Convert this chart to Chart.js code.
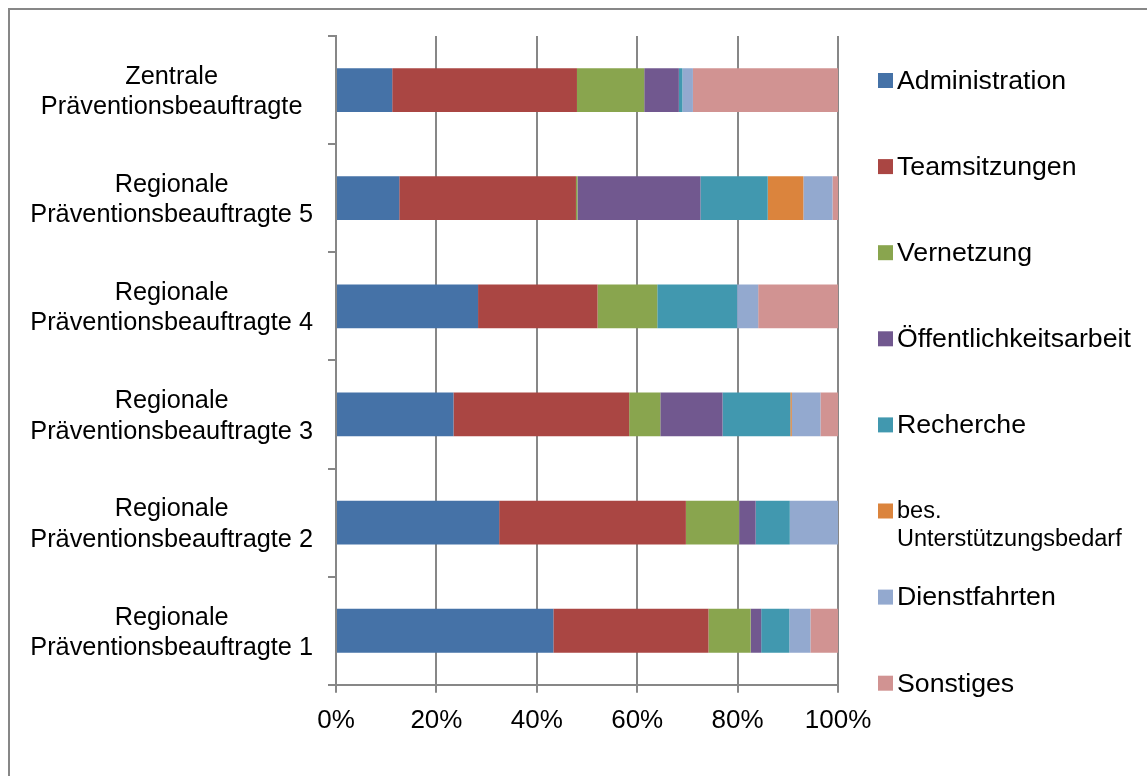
<!DOCTYPE html>
<html lang="de">

<head>
    <meta charset="utf-8">
    <title>Zeitanteile der Präventionsbeauftragten</title>
    <script src="https://cdn.jsdelivr.net/npm/chart.js"></script>
    <style>
        body { margin: 0; background: #fff; overflow: hidden; }
        #wrap { position: relative; width: 1147px; height: 776px; }
    </style>
</head>

<body>
    <div id="wrap">
        <canvas id="barChart"></canvas>
    </div>

    <script>
        // Kategorien (von oben nach unten)
        const categories = [
            ['Zentrale', 'Präventionsbeauftragte'],
            ['Regionale', 'Präventionsbeauftragte 5'],
            ['Regionale', 'Präventionsbeauftragte 4'],
            ['Regionale', 'Präventionsbeauftragte 3'],
            ['Regionale', 'Präventionsbeauftragte 2'],
            ['Regionale', 'Präventionsbeauftragte 1']
        ];

        // Anteile in Prozent je Tätigkeit
        const administration = [11.2, 12.6, 28.3, 23.4, 32.5, 43.3];
        const teamsitzungen = [36.8, 35.2, 23.8, 35.0, 37.2, 30.9];
        const vernetzung = [13.4, 0.3, 11.9, 6.2, 10.6, 8.4];
        const oeffentlichkeit = [6.9, 24.5, 0, 12.4, 3.3, 2.1];
        const recherche = [0.7, 13.4, 15.9, 13.5, 6.8, 5.6];
        const unterstuetzung = [0, 7.1, 0, 0.3, 0, 0];
        const dienstfahrten = [2.1, 5.8, 4.2, 5.7, 9.6, 4.2];
        const sonstiges = [28.9, 1.1, 15.9, 3.5, 0, 5.5];

        const xTicks = [0, 20, 40, 60, 80, 100];

        const series = [
            { label: 'Administration', data: administration, color: '#4572A7' },
            { label: 'Teamsitzungen', data: teamsitzungen, color: '#AA4643' },
            { label: 'Vernetzung', data: vernetzung, color: '#89A54E' },
            { label: 'Öffentlichkeitsarbeit', data: oeffentlichkeit, color: '#71588F' },
            { label: 'Recherche', data: recherche, color: '#4198AF' },
            { label: 'bes. Unterstützungsbedarf', data: unterstuetzung, color: '#DB843D' },
            { label: 'Dienstfahrten', data: dienstfahrten, color: '#93A9CF' },
            { label: 'Sonstiges', data: sonstiges, color: '#D19392' }
        ];

        const axisGray = '#878787';
        const fontFamily = '"Liberation Sans", Arial, sans-serif';

        // Legende rechts; zu lange Einträge werden kleiner gesetzt und umbrochen
        const sideLegend = {
            id: 'sideLegend',
            afterDraw(chart) {
                const ctx = chart.ctx;
                const x = 878, top = 81.5, step = 86.1, box = 15, maxW = 245;
                ctx.save();
                ctx.textBaseline = 'middle';
                ctx.textAlign = 'left';
                chart.data.datasets.forEach((ds, i) => {
                    const y = top + step * i;
                    ctx.fillStyle = ds.backgroundColor;
                    ctx.fillRect(x, y - box / 2 - 1, box, box);

                    let size = 26.7;
                    ctx.font = size + 'px ' + fontFamily;
                    let lines = [ds.label];
                    if (ctx.measureText(ds.label).width > maxW) {
                        size = 23.5;
                        ctx.font = size + 'px ' + fontFamily;
                        lines = [];
                        let cur = '';
                        ds.label.split(' ').forEach(w => {
                            const t = cur ? cur + ' ' + w : w;
                            if (cur && ctx.measureText(t).width > maxW - 15) {
                                lines.push(cur);
                                cur = w;
                            } else {
                                cur = t;
                            }
                        });
                        lines.push(cur);
                    }
                    ctx.fillStyle = '#000';
                    lines.forEach((l, k) => ctx.fillText(l, x + 19, y + k * 28));
                });
                ctx.restore();
            }
        };

        // Rahmen um die gesamte Grafik
        const frame = {
            id: 'frame',
            beforeDraw(chart) {
                const ctx = chart.ctx;
                ctx.save();
                ctx.strokeStyle = axisGray;
                ctx.lineWidth = 2;
                ctx.strokeRect(9, 9, 1400, 1000);
                ctx.restore();
            }
        };

        const ctx = document.getElementById('barChart').getContext('2d');

        new Chart(ctx, {
            type: 'bar',
            data: {
                labels: categories,
                datasets: series.map(s => ({
                    label: s.label,
                    data: s.data,
                    backgroundColor: s.color,
                    borderWidth: 0,
                    categoryPercentage: 1,
                    barPercentage: 0.405
                }))
            },
            options: {
                indexAxis: 'y',
                responsive: true,
                maintainAspectRatio: false,
                animation: false,
                layout: {
                    padding: { top: 36, right: 309, bottom: 28, left: 0 }
                },
                plugins: {
                    legend: { display: false },
                    tooltip: { enabled: false }
                },
                scales: {
                    x: {
                        stacked: true,
                        min: 0,
                        max: 100,
                        afterBuildTicks: scale => {
                            scale.ticks = xTicks.map(v => ({ value: v }));
                        },
                        ticks: {
                            callback: v => v + '%',
                            color: '#000',
                            padding: 12,
                            font: { family: fontFamily, size: 26 }
                        },
                        grid: {
                            color: axisGray,
                            lineWidth: 2,
                            tickLength: 8
                        },
                        border: { color: axisGray, width: 2 }
                    },
                    y: {
                        stacked: true,
                        afterFit: scale => {
                            // feste Achsbreite, Beschriftung darf nicht nach oben/unten Platz verlangen
                            scale.width = 336;
                            scale.paddingTop = 0;
                            scale.paddingBottom = 0;
                        },
                        ticks: {
                            crossAlign: 'center',
                            padding: 15,
                            labelOffset: 2,
                            color: '#000',
                            font: { family: fontFamily, size: 25.3 }
                        },
                        grid: {
                            drawOnChartArea: false,
                            color: axisGray,
                            lineWidth: 2,
                            tickLength: 8
                        },
                        border: { color: axisGray, width: 2 }
                    }
                }
            },
            plugins: [frame, sideLegend]
        });
    </script>
</body>

</html>
